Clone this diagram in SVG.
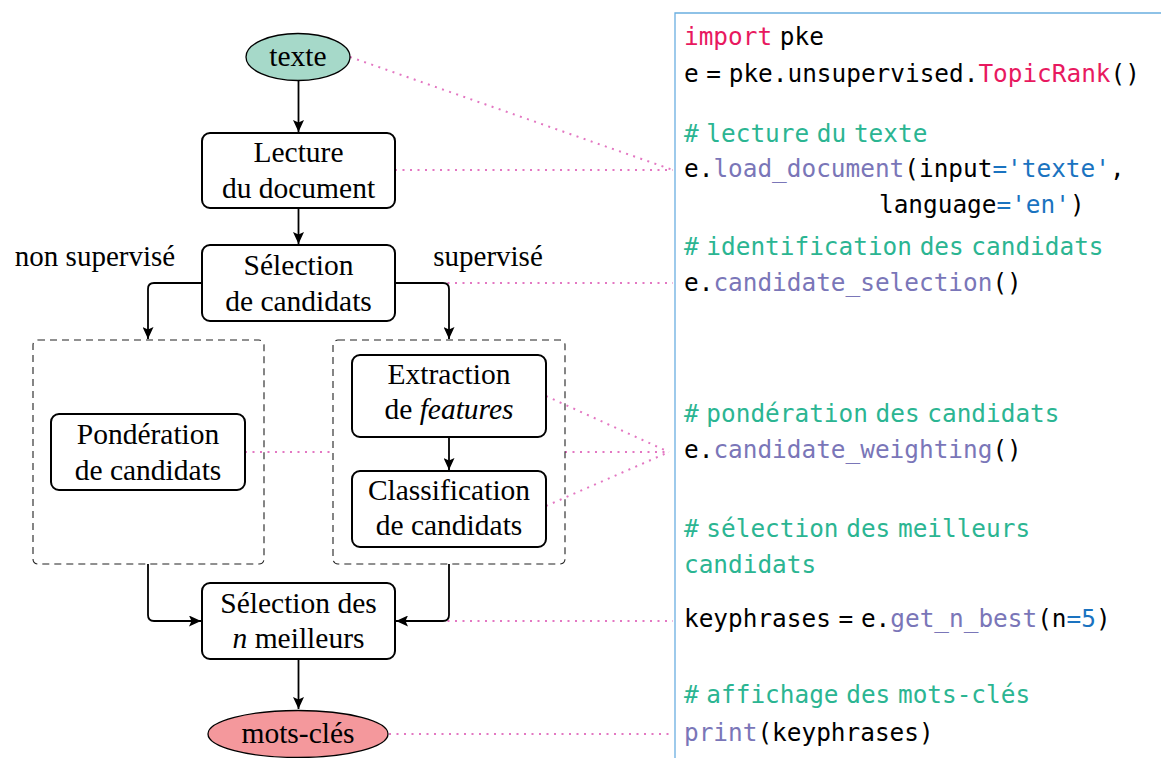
<svg xmlns="http://www.w3.org/2000/svg" width="1161" height="758" viewBox="0 0 1161 758">
<defs>
<style>
.node{fill:#fff;stroke:#000;stroke-width:2}
.grp{fill:none;stroke:#222;stroke-width:1.1;stroke-dasharray:7 5}
.lbl{font-family:"Liberation Serif","DejaVu Serif",serif;font-size:29.5px;fill:#000;text-anchor:middle}
.side{font-family:"Liberation Serif","DejaVu Serif",serif;font-size:29px;fill:#000;text-anchor:middle}
.conn{fill:none;stroke:#000;stroke-width:1.8}
.dot{fill:none;stroke:#e377c2;stroke-width:2;stroke-dasharray:2 5.5}
.code{font-family:"DejaVu Sans Mono",monospace;font-size:24.4px;fill:#000;word-spacing:-7px}
.kw{fill:#e8195f}
.cm{fill:#2bb592}
.fn{fill:#7a76b8}
.st{fill:#1a73c0}
</style>
<marker id="arr" markerUnits="userSpaceOnUse" markerWidth="13" markerHeight="11" refX="12" refY="5.5" orient="auto">
<path d="M0,0 L12,5.5 L0,11 L2.5,5.5 z" fill="#000"/>
</marker>
</defs>
<rect width="1161" height="758" fill="#fff"/>

<g id="links-dotted">
<path class="dot" d="M350,57 L673,170"/>
<path class="dot" d="M395,170 H673"/>
<path class="dot" d="M395,283 H673"/>
<path class="dot" d="M245,452 H333"/>
<path class="dot" d="M565,452 H669"/>
<path class="dot" d="M546,396 L669,452"/>
<path class="dot" d="M546,506 L669,452"/>
<path class="dot" d="M395,621 H673"/>
<path class="dot" d="M389,734 H673"/>
</g>

<g id="group-unsupervised"><rect class="grp" x="33" y="340" width="231" height="224" rx="5"/></g>
<g id="group-supervised"><rect class="grp" x="333" y="340" width="232" height="224" rx="5"/></g>

<g id="connectors">
<path class="conn" d="M298.5,80 V132" marker-end="url(#arr)"/>
<path class="conn" d="M298.5,208 V244" marker-end="url(#arr)"/>
<path class="conn" d="M202,283 H154 Q148,283 148,289 V339" marker-end="url(#arr)"/>
<path class="conn" d="M395,283 H443 Q449,283 449,289 V339" marker-end="url(#arr)"/>
<path class="conn" d="M449,437 V470" marker-end="url(#arr)"/>
<path class="conn" d="M148,564 V615 Q148,621 154,621 H201" marker-end="url(#arr)"/>
<path class="conn" d="M449,564 V615 Q449,621 443,621 H396" marker-end="url(#arr)"/>
<path class="conn" d="M298.5,659 V709" marker-end="url(#arr)"/>
</g>

<g id="texte">
<ellipse cx="298" cy="57" rx="52" ry="23.5" fill="#a6d9c9" stroke="#000" stroke-width="1.3"/>
<text class="lbl" x="298" y="66">texte</text>
</g>
<g id="lecture">
<rect class="node" x="202" y="133" width="193" height="75" rx="8"/>
<text class="lbl" x="298.5" y="162">Lecture</text>
<text class="lbl" x="298.5" y="198">du document</text>
</g>
<g id="selection">
<rect class="node" x="202" y="245" width="193" height="76" rx="8"/>
<text class="lbl" x="298.5" y="275">Sélection</text>
<text class="lbl" x="298.5" y="311">de candidats</text>
</g>
<g id="label-nonsup"><text class="side" x="95" y="266">non supervisé</text></g>
<g id="label-sup"><text class="side" x="488" y="266">supervisé</text></g>
<g id="ponderation">
<rect class="node" x="51" y="414" width="194" height="76" rx="8"/>
<text class="lbl" x="148" y="444">Pondération</text>
<text class="lbl" x="148" y="480">de candidats</text>
</g>
<g id="extraction">
<rect class="node" x="352" y="355" width="194" height="82" rx="8"/>
<text class="lbl" x="449" y="384">Extraction</text>
<text class="lbl" x="449" y="419">de <tspan font-style="italic">features</tspan></text>
</g>
<g id="classification">
<rect class="node" x="352" y="471" width="194" height="76" rx="8"/>
<text class="lbl" x="449" y="500">Classification</text>
<text class="lbl" x="449" y="535">de candidats</text>
</g>
<g id="selection-n">
<rect class="node" x="202" y="583" width="193" height="76" rx="8"/>
<text class="lbl" x="298.5" y="613">Sélection des</text>
<text class="lbl" x="298.5" y="648"><tspan font-style="italic">n</tspan> meilleurs</text>
</g>
<g id="motscles">
<ellipse cx="298" cy="734" rx="90" ry="23.5" fill="#f4989c" stroke="#000" stroke-width="1.3"/>
<text class="lbl" x="298" y="743">mots-clés</text>
</g>

<g id="code-panel">
<path d="M1161,13 H675 V758" fill="none" stroke="#6aaee0" stroke-width="1.3"/>
<text class="code" x="684" y="45"><tspan class="kw">import</tspan> pke</text>
<text class="code" x="684" y="82">e = pke.unsupervised.<tspan class="kw">TopicRank</tspan>()</text>
<text class="code cm" x="684" y="142"># lecture du texte</text>
<text class="code" x="684" y="177">e.<tspan class="fn">load_document</tspan>(input<tspan class="st">='texte'</tspan>,</text>
<text class="code" x="879" y="213">language<tspan class="st">='en'</tspan>)</text>
<text class="code cm" x="684" y="255"># identification des candidats</text>
<text class="code" x="684" y="291">e.<tspan class="fn">candidate_selection</tspan>()</text>
<text class="code cm" x="684" y="422"># pondération des candidats</text>
<text class="code" x="684" y="458">e.<tspan class="fn">candidate_weighting</tspan>()</text>
<text class="code cm" x="684" y="537"># sélection des meilleurs</text>
<text class="code cm" x="684" y="573">candidats</text>
<text class="code" x="684" y="627">keyphrases = e.<tspan class="fn">get_n_best</tspan>(n<tspan class="st">=5</tspan>)</text>
<text class="code cm" x="684" y="703"># affichage des mots-clés</text>
<text class="code" x="684" y="741"><tspan class="fn">print</tspan>(keyphrases)</text>
</g>
</svg>
